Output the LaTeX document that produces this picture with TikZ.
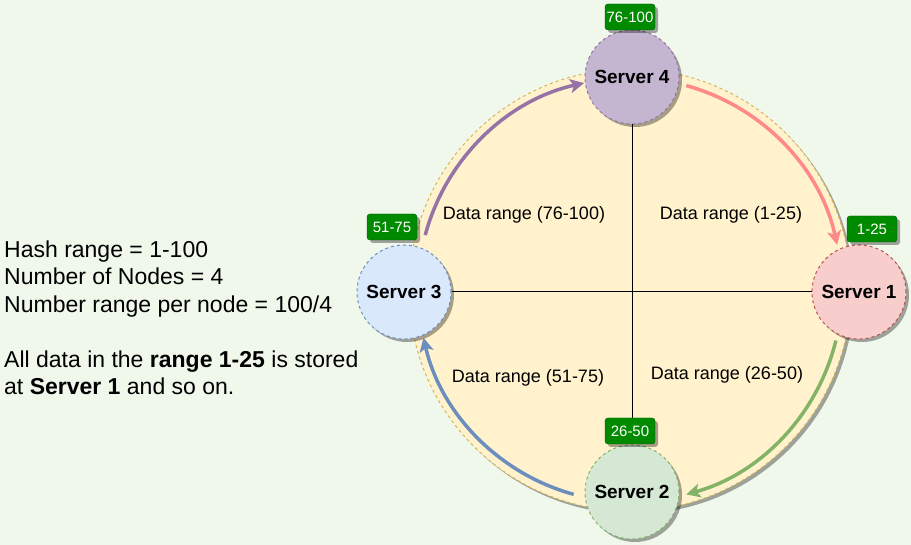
\documentclass[tikz,border=0pt]{standalone}
\usepackage{fontspec}
\setmainfont{Liberation Sans}
\usetikzlibrary{arrows.meta,shadows}
\definecolor{bg}{RGB}{240,248,236}
\definecolor{ringfill}{HTML}{FFF2CC}
\definecolor{ringdraw}{HTML}{D6B656}
\definecolor{redfill}{HTML}{F8CECC}
\definecolor{reddraw}{HTML}{B85450}
\definecolor{greenfill}{HTML}{D5E8D4}
\definecolor{greendraw}{HTML}{82B366}
\definecolor{bluefill}{HTML}{DAE8FC}
\definecolor{bluedraw}{HTML}{6C8EBF}
\definecolor{purplefill}{RGB}{196,182,208}
\definecolor{purpledraw}{HTML}{9673A6}
\definecolor{pinkarrow}{RGB}{255,136,136}
\definecolor{tagfill}{HTML}{008A00}
\definecolor{tagdraw}{HTML}{005700}
\tikzset{
  shad/.style={drop shadow={shadow xshift=3pt,shadow yshift=-3pt,fill=black,opacity=0.35}},
  ring/.style={circle,minimum size=442pt,inner sep=0pt,fill=ringfill,draw=ringdraw,dashed,line width=1pt,shad},
  server/.style={circle,minimum size=94pt,inner sep=0pt,dashed,line width=1pt,shad,
     font=\fontsize{19}{22}\selectfont\bfseries},
  tag/.style={rectangle,rounded corners=3pt,minimum width=50pt,minimum height=26pt,inner sep=0pt,
     fill=tagfill,draw=tagdraw,text=white,font=\fontsize{15}{18}\selectfont,shad},
  rangelbl/.style={font=\fontsize{18}{21}\selectfont,inner sep=0pt},
  axis/.style={draw=black,line width=1pt},
  arc arrow/.style={line width=3.5pt,-{Stealth[length=14pt,width=14pt,inset=3.5pt]}}
}
\begin{document}
\begin{tikzpicture}[x=1pt,y=1pt]
\useasboundingbox (0,0) rectangle (911,545);
\fill[bg] (0,0) rectangle (911,545);
\coordinate (c) at (630,255);
\node[ring] (ring) at (c) {};
\node[server,fill=purplefill,draw=purpledraw] (s4) at (632,468) {Server 4};
\node[server,fill=redfill,draw=reddraw] (s1) at (859,253) {Server 1};
\node[server,fill=greenfill,draw=greendraw] (s2) at (632,53) {Server 2};
\node[server,fill=bluefill,draw=bluedraw] (s3) at (404,253) {Server 3};
\draw[axis] (s4) -- (s2);
\draw[axis] (s3) -- (s1);
\node[tag] (t4) at (630,528) {76-100};
\node[tag] (t1) at (872,316) {1-25};
\node[tag] (t3) at (392,318) {51-75};
\node[tag] (t2) at (630,114) {26-50};
\draw[arc arrow,draw=pinkarrow] ([shift={(74.6:212)}]c) arc[start angle=74.6,end angle=12.3,radius=212];
\draw[arc arrow,draw=greendraw] ([shift={(-13.8:212)}]c) arc[start angle=-13.8,end angle=-74.6,radius=212];
\draw[arc arrow,draw=bluedraw] ([shift={(254.6:212)}]c) arc[start angle=254.6,end angle=193,radius=212];
\draw[arc arrow,draw=purpledraw] ([shift={(165:212)}]c) arc[start angle=165,end angle=102.5,radius=212];
\node[rangelbl] (r4) at (524,330) {Data range (76-100)};
\node[rangelbl] (r1) at (731,330) {Data range (1-25)};
\node[rangelbl] (r3) at (528,167) {Data range (51-75)};
\node[rangelbl] (r2) at (727,170) {Data range (26-50)};
\node[anchor=west,align=left,inner sep=0pt,font=\fontsize{23}{27.5}\selectfont] (info) at (4,227) {Hash range = 1-100\\Number of Nodes = 4\\Number range per node = 100/4\\[27.5pt]All data in the \textbf{range 1-25} is stored\\at \textbf{Server 1} and so on.};
\end{tikzpicture}
\end{document}
